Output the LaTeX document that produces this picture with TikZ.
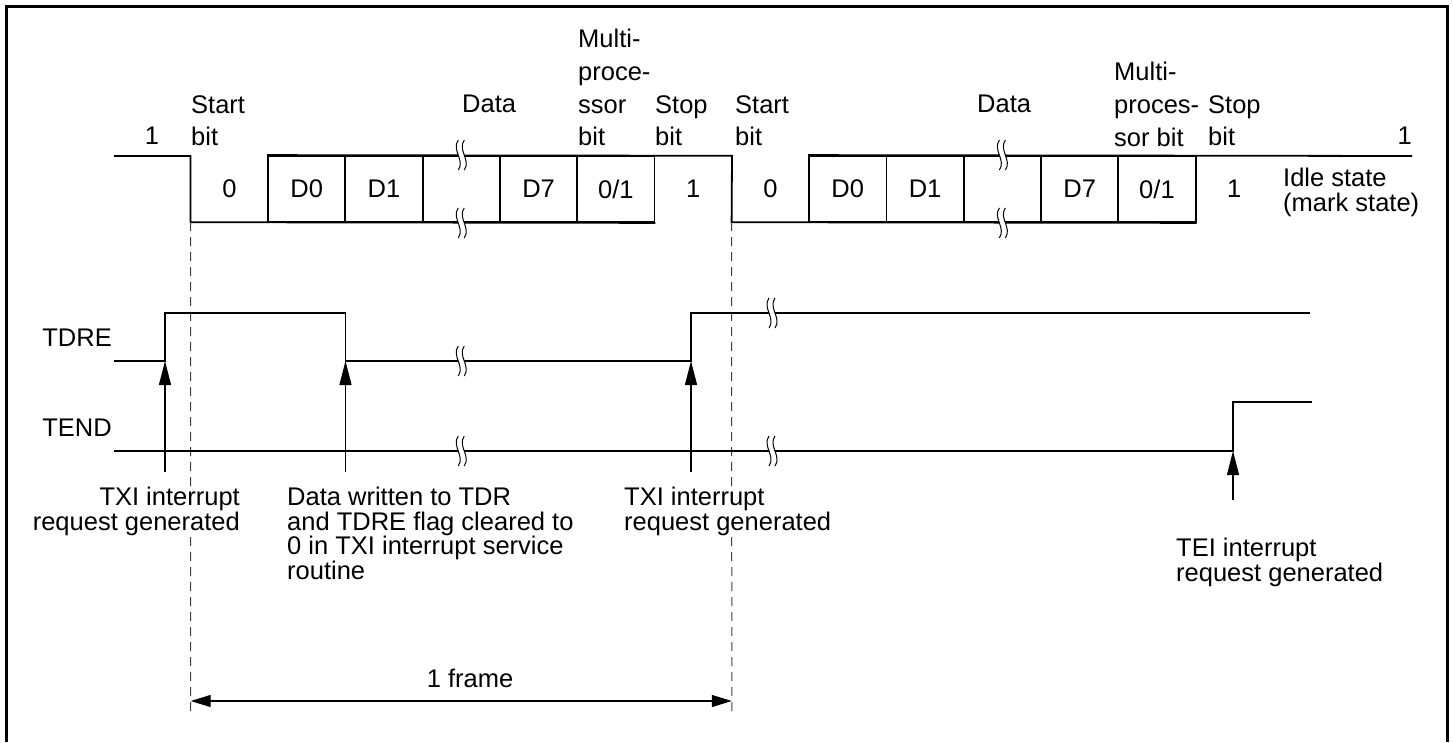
\documentclass[tikz,border=0pt]{standalone}
\usepackage{fontspec}
\setmainfont{Liberation Sans}
\usetikzlibrary{arrows.meta}

\tikzset{
  wave/.style={line width=1.8pt},
  cell/.style={minimum width=77.3pt, minimum height=66pt, inner sep=0pt, font=\fontsize{25.5}{30}\selectfont},
  bitbox/.style={cell, draw, line width=1.8pt},
  toplbl/.style={inner sep=0pt, anchor=north west, align=left, font=\fontsize{25.5}{32.7}\selectfont},
  lbl/.style={inner sep=0pt, anchor=north west, align=left, fill=white, font=\fontsize{25.5}{24.5}\selectfont},
  guide/.style={line width=1pt, dash pattern=on 9pt off 6pt, black!75},
  ptr/.style={-{Triangle[length=24pt,width=12pt]}, line width=1.2pt, shorten <=15pt},
  framearrow/.style={{Triangle[length=20pt,width=12pt]}-{Triangle[length=20pt,width=12pt]}, line width=1.2pt},
  brk/.pic={
    \fill[white] (-3,-15) .. controls (-10,-5) and (4,5) .. (-3,15) -- (3,15) .. controls (10,5) and (-4,-5) .. (3,-15) -- cycle;
    \draw[line width=1pt] (-3,-15) .. controls (-10,-5) and (4,5) .. (-3,15);
    \draw[line width=1pt] (3,-15) .. controls (-4,-5) and (10,5) .. (3,15);
  }
}

\begin{document}
\begin{tikzpicture}[x=1pt, y=-1pt]
\useasboundingbox (0,0) rectangle (1453,742);
\draw[line width=3pt] (6.5,742) -- (6.5,6.5) -- (1447.5,6.5) -- (1447.5,742);

% first frame
\node[cell] (s0a) at (229.35,189) {0};
\node[bitbox] (d0a) at (306.65,189) {D0};
\node[bitbox] (d1a) at (383.95,189) {D1};
\node[bitbox] (dxa) at (461.25,189) {};
\node[bitbox] (d7a) at (538.55,189) {D7};
\node[bitbox] (mpa) at (615.85,189) {0/1};
\node[cell] (spa) at (693.15,189) {1};
% second frame
\node[cell] (s0b) at (770.45,189) {0};
\node[bitbox] (d0b) at (847.75,189) {D0};
\node[bitbox] (d1b) at (925.05,189) {D1};
\node[bitbox] (dxb) at (1002.35,189) {};
\node[bitbox] (d7b) at (1079.65,189) {D7};
\node[bitbox] (mpb) at (1156.95,189) {0/1};
\node[cell] (spb) at (1234.25,189) {1};

\draw[wave] (114,156) -| (s0a.south west) -- (mpa.south east);
\draw[wave] (d0a.north west) -- (spa.north east) -- (s0b.south west) -- (mpb.south east);
\draw[wave] (d0b.north west) -- (1412,156);
\pic at (dxa.north) {brk};
\pic at (dxa.south) {brk};
\pic at (dxb.north) {brk};
\pic at (dxb.south) {brk};

% bit names
\node[toplbl, anchor=north] (onea) at (152,127) {1};
\node[toplbl] (sta) at (191,95) {Start\\bit};
\node[toplbl] (data) at (462,95) {Data};
\node[toplbl] (mpla) at (578,29) {Multi-\\proce-\\ssor\\bit};
\node[toplbl] (spla) at (655,95) {Stop\\bit};
\node[toplbl] (stb) at (735,95) {Start\\bit};
\node[toplbl] (datb) at (977,95) {Data};
\node[toplbl] (mplb) at (1114,62) {Multi-\\proces-\\sor bit};
\node[toplbl] (splb) at (1208,95) {Stop\\bit};
\node[toplbl, anchor=north east] (oneb) at (1412,127) {1};
\node[lbl] (idle) at (1283,168) {Idle state\\(mark state)};

% flags
\draw[guide] (s0a.south west) -- (190.7,712);
\draw[guide] (s0b.south west) -- (731.8,712);
\node[lbl, anchor=north east] (tdre) at (112,329) {TDRE};
\node[lbl, anchor=north east] (tend) at (112,419) {TEND};
\coordinate (txa) at (165,361);
\coordinate (clr) at (345.5,361);
\coordinate (txb) at (691,361);
\coordinate (tei) at (1233,451);
\draw[wave] (114,361) -- (txa) -- (165,313) -- (345.5,313) -- (clr) -- (txb) -- (691,313) -- (1310,313);
\draw[wave] (114,451) -- (tei) -- (1233,402) -- (1312,402);
\pic at (461.25,361) {brk};
\pic at (772,313) {brk};
\pic at (461.25,451) {brk};
\pic at (772,451) {brk};

% interrupts
\node[lbl, anchor=north east, align=right] (txil) at (240,487) {TXI interrupt\\request generated};
\node[lbl] (wrl) at (287,487) {Data written to TDR\\and TDRE flag cleared to\\0 in TXI interrupt service\\routine};
\node[lbl] (txjl) at (624,487) {TXI interrupt\\request generated};
\node[lbl] (teil) at (1176,538) {TEI interrupt\\request generated};
\draw[ptr] (txil.north -| txa) -- (txa);
\draw[ptr] (wrl.north -| clr) -- (clr);
\draw[ptr] (txjl.north -| txb) -- (txb);
\draw[ptr, shorten <=38pt] (teil.north -| tei) -- (tei);

% one frame
\coordinate (fa) at (190.7,701);
\coordinate (fb) at (731.8,701);
\draw[framearrow] (fa) -- (fb);
\node[lbl, anchor=north] (frm) at (470,669) {1 frame};
\end{tikzpicture}
\end{document}
